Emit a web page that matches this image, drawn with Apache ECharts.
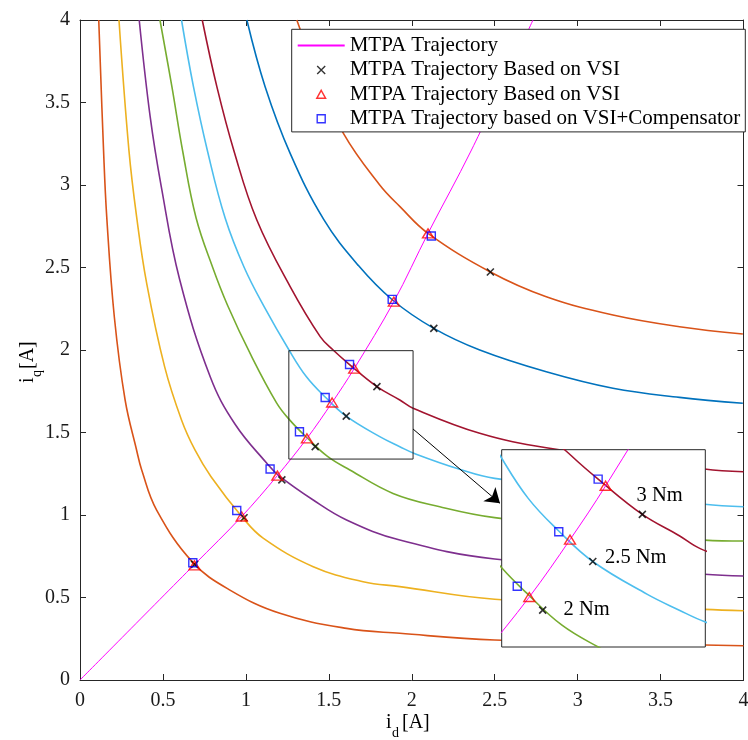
<!DOCTYPE html>
<html>
<head>
<meta charset="UTF-8">
<title>MTPA</title>
<script src="https://cdn.jsdelivr.net/npm/echarts@6/dist/echarts.min.js"></script>
<style>
  html, body { margin: 0; background: #fff; }
  #main { width: 748px; height: 740px; }
</style>
</head>
<body>
<div id="main"></div>
<script>
const FONT = '"Liberation Serif", "Times New Roman", serif';
const AXIS = '#262626';

// constant torque curves, [id, iq]
const curve1 = [[0.113,4.0],[0.142,3.21],[0.161,2.81],[0.207,2.2],[0.272,1.697],[0.341,1.394],[0.372,1.273],[0.462,1.03],[0.68,0.713],[0.904,0.545],[1.205,0.404],[1.607,0.313],[1.928,0.283],[2.5,0.242],[3.765,0.212],[4.0,0.208]];
const curve2 = [[0.235,4.0],[0.295,3.21],[0.341,2.81],[0.402,2.404],[0.51,1.899],[0.612,1.576],[0.693,1.394],[0.79,1.232],[0.975,0.991],[1.104,0.86],[1.406,0.687],[1.707,0.596],[1.928,0.566],[2.5,0.489],[3.765,0.428],[4.0,0.42]];
const curve3 = [[0.357,4.0],[0.423,3.414],[0.49,2.99],[0.60,2.43],[0.785,1.838],[0.935,1.55],[1.125,1.315],[1.195,1.242],[1.406,1.091],[1.607,0.97],[1.928,0.848],[2.5,0.733],[3.765,0.641],[4.0,0.63]];
const curve4 = [[0.482,4.0],[0.554,3.596],[0.62,3.2],[0.70,2.8],[0.80,2.5],[0.89,2.27],[1.03,1.97],[1.185,1.68],[1.265,1.575],[1.366,1.471],[1.49,1.357],[1.627,1.273],[1.887,1.131],[2.169,1.05],[2.5,0.984],[3.765,0.848],[4.0,0.842]];
const curve5 = [[0.612,4.0],[0.684,3.596],[0.77,3.2],[0.875,2.8],[0.99,2.5],[1.11,2.263],[1.26,2.0],[1.364,1.839],[1.478,1.715],[1.605,1.599],[1.807,1.475],[1.928,1.414],[2.023,1.37],[2.289,1.277],[2.5,1.222],[3.765,1.065],[4.0,1.05]];
const curve6 = [[0.737,4.0],[0.825,3.596],[0.93,3.2],[1.066,2.788],[1.267,2.384],[1.448,2.081],[1.526,2.0],[1.625,1.912],[1.79,1.778],[1.928,1.697],[2.008,1.647],[2.41,1.495],[2.811,1.408],[3.765,1.279],[4.0,1.262]];
const curve7 = [[1.006,4.0],[1.116,3.596],[1.267,3.192],[1.47,2.79],[1.68,2.51],[1.884,2.303],[2.133,2.131],[2.41,2.0],[2.811,1.868],[3.213,1.768],[3.614,1.713],[3.996,1.677]];
const curve8 = [[1.307,4.0],[1.436,3.656],[1.588,3.313],[1.807,3.0],[1.929,2.869],[2.098,2.707],[2.474,2.473],[2.811,2.323],[3.213,2.212],[3.614,2.141],[3.996,2.097]];
const curves = [curve1, curve2, curve3, curve4, curve5, curve6, curve7, curve8];
const curveColors = ['#D95319', '#EDB120', '#7E2F8E', '#77AC30', '#4DBEEE', '#A2142F', '#0072BD', '#D95319'];

const mtpaLine = [[0,0],[0.69,0.70],[0.975,0.991],[1.19,1.239],[1.368,1.464],[1.52,1.682],[1.653,1.887],[1.892,2.293],[2.098,2.707],[2.36,3.212],[2.731,4.0]];
const vsiCross = [[0.691,0.701],[0.989,0.983],[1.217,1.213],[1.418,1.414],[1.605,1.599],[1.79,1.778],[2.133,2.131],[2.474,2.473]];
const vsiTriangle = [[0.69,0.695],[0.975,0.991],[1.19,1.239],[1.368,1.464],[1.52,1.682],[1.653,1.887],[1.892,2.293],[2.098,2.707]];
const vsiComp = [[0.68,0.711],[0.945,1.027],[1.146,1.279],[1.323,1.505],[1.478,1.712],[1.625,1.912],[1.882,2.307],[2.118,2.691]];

const legendNames = ['MTPA Trajectory', 'MTPA Trajectory Based on VSI', 'MTPA Trajectory Based on VSI ', 'MTPA Trajectory based on VSI+Compensator'];

const axisMin = 0, axisMax = 4, tickStep = 0.5;
const zoomBoxX = [1.259, 2.008];
const zoomBoxY = [1.339, 1.996];
const insetX = [1.265, 2.025];
const insetY = [1.274, 2.024];
const arrowFrom = [2.008, 1.521];
const arrowTo = [2.532, 1.071];
const torqueLabels = ['3 Nm', '2.5 Nm', '2 Nm'];

const crossPath = 'path://M0,0L10,10M10,0L0,10';
const triPath = 'path://M5,0L10,9L0,9Z';
const rectPath = 'path://M0,0L10,0L10,10L0,10Z';

const chart = echarts.init(document.getElementById('main'), null, { renderer: 'canvas' });

function mainAxis(pos) {
  const bottomOrLeft = pos === 'bottom' || pos === 'left';
  return {
    type: 'value', gridIndex: 0, position: pos, min: axisMin, max: axisMax, interval: tickStep,
    axisLine: { show: true, onZero: false, lineStyle: { color: AXIS, width: 1 } },
    axisTick: { show: true, inside: true, length: 6, lineStyle: { color: AXIS } },
    axisLabel: { show: bottomOrLeft, color: '#1a1a1a', fontFamily: FONT, fontSize: 20, margin: pos === 'bottom' ? 11 : 10 },
    splitLine: { show: false }
  };
}

const series = [];
[0, 1].forEach(function (g) {
  const ax = g === 0 ? 0 : 2;
  const z = g === 0 ? 2 : 6;
  curves.forEach(function (c, i) {
    series.push({
      type: 'line', xAxisIndex: ax, yAxisIndex: ax, z: z, data: c, smooth: 0.4,
      symbol: 'none', silent: true, lineStyle: { color: curveColors[i], width: 1.6 }, itemStyle: { color: curveColors[i] }
    });
  });
  // the item colour is transparent so the legend shows only the magenta line
  series.push({
    name: legendNames[0], type: 'line', xAxisIndex: ax, yAxisIndex: ax, z: z + 1, data: mtpaLine, smooth: 0.35,
    symbol: 'none', silent: true, lineStyle: { color: '#FF00FF', width: 1 },
    itemStyle: { color: 'rgba(0,0,0,0)', borderColor: 'rgba(0,0,0,0)', borderWidth: 0 }
  });
  series.push({
    name: legendNames[1], type: 'scatter', xAxisIndex: ax, yAxisIndex: ax, z: z + 1, data: vsiCross,
    symbol: crossPath, symbolSize: 7, symbolKeepAspect: true, silent: true,
    itemStyle: { color: 'rgba(0,0,0,0)', borderColor: '#000', borderWidth: 1.6 }
  });
  series.push({
    name: legendNames[2], type: 'scatter', xAxisIndex: ax, yAxisIndex: ax, z: z + 1, data: vsiTriangle,
    symbol: triPath, symbolSize: [11, 10], symbolKeepAspect: true, silent: true,
    itemStyle: { color: 'rgba(0,0,0,0)', borderColor: '#FF0000', borderWidth: 1.4 }
  });
  series.push({
    name: legendNames[3], type: 'scatter', xAxisIndex: ax, yAxisIndex: ax, z: z + 1, data: vsiComp,
    symbol: rectPath, symbolSize: 8, symbolKeepAspect: true, silent: true,
    itemStyle: { color: 'rgba(0,0,0,0)', borderColor: '#0000FF', borderWidth: 1.4 }
  });
});

// zoom box and arrow on the main axes
series.push({
  type: 'line', xAxisIndex: 0, yAxisIndex: 0, z: 8, silent: true, symbol: 'none',
  data: [[zoomBoxX[0], zoomBoxY[0]], [zoomBoxX[1], zoomBoxY[0]], [zoomBoxX[1], zoomBoxY[1]], [zoomBoxX[0], zoomBoxY[1]], [zoomBoxX[0], zoomBoxY[0]]],
  lineStyle: { color: AXIS, width: 1 },
  markLine: {
    silent: true, z: 9, symbol: ['none', 'arrow'], symbolSize: 14, label: { show: false },
    lineStyle: { color: '#000', width: 1, type: 'solid' },
    itemStyle: { color: '#000' },
    data: [[{ coord: arrowFrom }, { coord: arrowTo }]]
  }
});

chart.setOption({
  animation: false,
  backgroundColor: '#fff',
  grid: [
    { left: 80, top: 20, width: 663.5, height: 660, outerBoundsMode: 'none' },
    { left: 501.7, top: 449.7, width: 203.6, height: 197.3, show: true, z: 5,
      backgroundColor: '#fff', borderColor: AXIS, borderWidth: 1, outerBoundsMode: 'none' }
  ],
  xAxis: [mainAxis('bottom'), mainAxis('top'),
    { type: 'value', gridIndex: 1, min: insetX[0], max: insetX[1], show: false }],
  yAxis: [mainAxis('left'), mainAxis('right'),
    { type: 'value', gridIndex: 1, min: insetY[0], max: insetY[1], show: false }],
  legend: {
    data: [{ name: legendNames[0], itemStyle: { borderWidth: 0 } }, legendNames[1], legendNames[2], legendNames[3]],
    orient: 'vertical', left: 291.7, top: 29.3, symbolKeepAspect: true,
    padding: [4, 5, 1, 5], itemGap: 0, itemWidth: 47, itemHeight: 8,
    backgroundColor: '#fff', borderColor: AXIS, borderWidth: 1, selectedMode: false,
    itemStyle: { borderWidth: 1.4 },
    textStyle: { fontFamily: FONT, fontSize: 21, color: '#000', lineHeight: 24.4 }
  },
  graphic: [
    { type: 'text', left: 636.5, top: 485, z: 20, style: { text: torqueLabels[0], font: '20.5px ' + FONT, fill: '#000' } },
    { type: 'text', left: 605, top: 547.5, z: 20, style: { text: torqueLabels[1], font: '20.5px ' + FONT, fill: '#000' } },
    { type: 'text', left: 563.5, top: 599, z: 20, style: { text: torqueLabels[2], font: '20.5px ' + FONT, fill: '#000' } },
    // x axis title i_d [A]
    { type: 'text', x: 386, y: 733, z: 20, style: { text: 'i', font: '20px ' + FONT, fill: '#000', verticalAlign: 'bottom' } },
    { type: 'text', x: 392, y: 740, z: 20, style: { text: 'd', font: '14px ' + FONT, fill: '#000', verticalAlign: 'bottom' } },
    { type: 'text', x: 402, y: 733, z: 20, style: { text: '[A]', font: '20px ' + FONT, fill: '#000', verticalAlign: 'bottom' } },
    // y axis title i_q[A]
    { type: 'group', x: 38, y: 383, rotation: Math.PI / 2, z: 20, children: [
      { type: 'text', x: 0, y: 0, style: { text: 'i', font: '20px ' + FONT, fill: '#000', verticalAlign: 'bottom' } },
      { type: 'text', x: 6, y: 6, style: { text: 'q', font: '14px ' + FONT, fill: '#000', verticalAlign: 'bottom' } },
      { type: 'text', x: 14, y: 0, style: { text: '[A]', font: '20px ' + FONT, fill: '#000', verticalAlign: 'bottom' } }
    ] }
  ],
  series: series
});
</script>
</body>
</html>
